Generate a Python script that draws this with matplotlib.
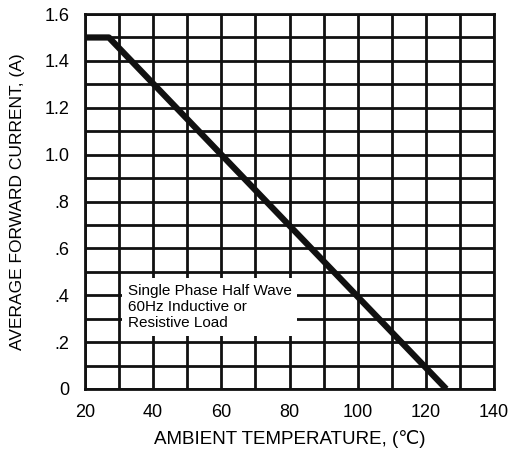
import matplotlib
matplotlib.use('Agg')
import matplotlib.pyplot as plt
import numpy as np

plt.rcParams['font.family'] = ['Liberation Sans', 'DejaVu Sans']

# derating curve: ambient temperature vs. average forward current
temp = [20, 27, 126]
current = [1.5, 1.5, 0.0]

x_ticks = [20, 40, 60, 80, 100, 120, 140]
y_ticks = [0, 0.2, 0.4, 0.6, 0.8, 1.0, 1.2, 1.4, 1.6]
y_tick_labels = ['0', '.2', '.4', '.6', '.8', '1.0', '1.2', '1.4', '1.6']

note = "Single Phase Half Wave\n60Hz Inductive or\nResistive Load"

fig = plt.figure(figsize=(5.2, 4.53), dpi=100)
ax = fig.add_axes([0.1635, 0.1413, 0.7865, 0.8277])

ax.set_xlim(20, 140)
ax.set_ylim(0, 1.6)
ax.set_xticks(np.arange(20, 141, 10), minor=True)
ax.set_yticks(np.arange(0, 1.61, 0.1), minor=True)
ax.set_xticks(x_ticks)
ax.set_yticks(y_ticks)
ax.set_yticklabels(y_tick_labels)
ax.grid(True, which='both', color='#111111', linewidth=2.0)
ax.set_axisbelow(True)
ax.tick_params(which='both', length=0, labelsize=13, pad=11)

for s in ax.spines.values():
    s.set_linewidth(2.0)
    s.set_color('#111111')

ax.plot(temp, current, color='#111111', linewidth=4.5, solid_capstyle='butt', zorder=3)

ax.text(32.5, 0.35, note, fontsize=11, va='center', ha='left', linespacing=1.2,
        bbox=dict(facecolor='white', edgecolor='none', pad=4), zorder=4)

ax.set_xlabel('AMBIENT TEMPERATURE, (℃)', fontsize=13.5, labelpad=6)
ax.set_ylabel('AVERAGE FORWARD CURRENT, (A)', fontsize=12.5, labelpad=14)

fig.savefig('out.png', dpi=100)
